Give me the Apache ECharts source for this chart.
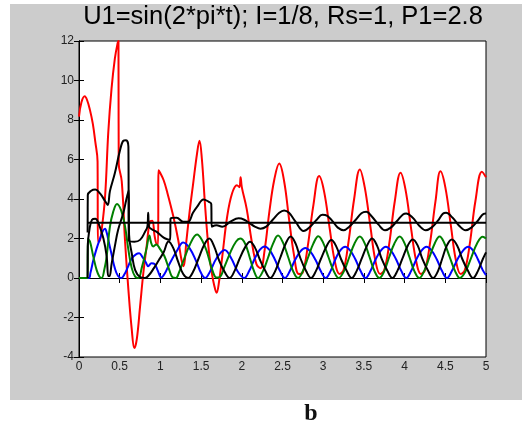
<!DOCTYPE html>
<html>
<head>
<meta charset="utf-8">
<script src="https://cdn.jsdelivr.net/npm/echarts@6/dist/echarts.min.js"></script>
<style>
html,body{margin:0;padding:0;background:#fff;}
#chart{width:526px;height:427px;}
</style>
</head>
<body>
<div id="chart"></div>
<script>
const titleText = 'U1=sin(2*pi*t); I=1/8, Rs=1, P1=2.8';
const panelLabel = 'b';
const xTicks = [0, 5, 0.5];
const yTicks = [-4, 12, 2];

const redCurve = [
[0,8.17],[0.03,8.9],[0.07,9.2],[0.1,9.0],[0.135,8.5],[0.17,7.8],[0.2,6.9],[0.228,5.9],[0.232,1.85],[0.25,1.85],[0.28,2.5],[0.32,4.1],[0.36,7.4],[0.4,9.6],[0.44,11.1],[0.475,11.9],[0.485,12],[0.488,5.8],[0.525,4.9],[0.566,1.84],[0.607,-0.6],[0.648,-2.6],[0.68,-3.55],[0.71,-3.1],[0.75,-1.45],[0.79,0.24],[0.83,1.58],[0.87,2.85],[0.9,2.9],[0.93,2.1],[0.96,1.7],[0.972,1.7],[0.976,5.45],[1.0,5.3],[1.04,4.95],[1.08,4.4],[1.16,3.1],[1.22,1.9],[1.26,0.9],[1.285,0.6],[1.32,1.9],[1.36,3.4],[1.4,4.7],[1.45,6.3],[1.48,6.95],[1.51,6.0],[1.55,3.6],[1.59,1.58],[1.63,0.3],[1.66,-0.35],[1.69,-0.75],[1.72,-0.2],[1.76,1.08],[1.82,3.1],[1.88,4.28],[1.94,4.7],[1.97,4.6],[1.985,5.1],[2.0,4.6],[2.06,3.5],[2.12,1.9],[2.18,0.7],[2.23,0.5],[2.28,1.4],[2.34,3.4],[2.4,5.0],[2.46,5.8],[2.52,4.9],[2.58,3.0],[2.64,1.2],[2.7,0.2],[2.75,0.3],[2.81,1.6],[2.88,3.7],[2.95,5.16],[3.01,4.4],[3.08,2.5],[3.14,0.9],[3.2,0.2],[3.25,0.4],[3.31,1.8],[3.38,4.0],[3.45,5.5],[3.51,4.6],[3.58,2.6],[3.64,0.9],[3.7,0.2],[3.75,0.4],[3.81,1.7],[3.88,3.9],[3.95,5.33],[4.01,4.5],[4.08,2.5],[4.14,0.9],[4.2,0.2],[4.25,0.4],[4.31,1.7],[4.38,3.9],[4.44,5.4],[4.5,4.6],[4.57,2.6],[4.63,0.9],[4.69,0.2],[4.74,0.4],[4.8,1.7],[4.87,3.9],[4.95,5.38],[5.0,5.1]
];

const blueCurve = [
[0,0],[0.12,0],[0.14,0.25],[0.175,0.88],[0.217,1.5],[0.258,2.0],[0.295,2.4],[0.32,2.5],[0.34,2.3],[0.37,1.75],[0.4,1.2],[0.44,0.5],[0.48,0.1],[0.52,0],[0.56,0.2],[0.6,0.55],[0.65,1.0],[0.7,1.2],[0.74,1.25],[0.78,1.05],[0.82,0.8],[0.85,0.6],[0.89,0.75],[0.93,0.7],[0.97,0.35],[1.01,0.02],[1.05,0.2],[1.11,0.7],[1.2,1.35],[1.28,1.8],[1.36,1.5],[1.44,0.84],[1.5,0.25],[1.55,0],[1.61,0.33],[1.69,1.0],[1.79,1.42],[1.87,1.0],[1.95,0.33],[2.03,0],
[2.09,0.35],[2.155,0.95],[2.22,1.42],[2.28,1.6],[2.34,1.42],[2.405,0.95],[2.47,0.35],[2.53,0],
[2.59,0.35],[2.655,0.92],[2.72,1.35],[2.78,1.52],[2.84,1.35],[2.905,0.92],[2.97,0.35],[3.03,0],
[3.09,0.35],[3.15,0.95],[3.21,1.4],[3.27,1.58],[3.33,1.4],[3.395,0.95],[3.46,0.35],[3.52,0],
[3.58,0.35],[3.645,0.95],[3.71,1.4],[3.77,1.58],[3.83,1.4],[3.895,0.95],[3.96,0.35],[4.02,0],
[4.08,0.35],[4.145,0.95],[4.21,1.4],[4.27,1.58],[4.33,1.4],[4.395,0.95],[4.46,0.35],[4.52,0],
[4.58,0.35],[4.65,0.95],[4.72,1.4],[4.78,1.58],[4.84,1.4],[4.9,0.95],[4.96,0.4],[5,0.15]
];

const greenCurve = [
[0,0],[0.106,0],[0.108,2.0],[0.135,1.84],[0.175,1.1],[0.217,0.4],[0.25,0.08],[0.278,0],[0.31,0.4],[0.34,1.1],[0.38,2.6],[0.42,3.35],[0.467,3.75],[0.52,3.4],[0.566,2.6],[0.607,1.42],[0.648,0.5],[0.69,0.07],[0.73,0],[0.77,0.5],[0.83,1.5],[0.865,2.15],[0.885,1.8],[0.91,1.6],[0.95,1.7],[0.99,1.5],[1.05,1.1],[1.11,0.4],[1.15,0.03],[1.19,0],[1.23,0.3],[1.28,0.84],[1.36,1.67],[1.45,2.2],[1.51,1.93],[1.57,1.35],[1.63,0.5],[1.69,0.02],[1.73,0.05],[1.79,0.6],[1.86,1.3],[1.93,1.85],[1.98,2.0],[2.04,1.75],[2.1,1.0],[2.15,0.35],[2.2,0],
[2.26,0.35],[2.32,1.0],[2.385,1.75],[2.445,2.15],[2.505,1.8],[2.57,1.05],[2.63,0.35],[2.69,0],
[2.75,0.35],[2.815,1.05],[2.88,1.75],[2.94,2.12],[3.0,1.78],[3.065,1.05],[3.13,0.35],[3.19,0],
[3.255,0.35],[3.32,1.05],[3.385,1.75],[3.45,2.1],[3.51,1.75],[3.57,1.05],[3.63,0.35],[3.69,0],
[3.75,0.35],[3.81,1.05],[3.875,1.75],[3.94,2.1],[4.0,1.75],[4.06,1.05],[4.12,0.35],[4.18,0],
[4.24,0.35],[4.305,1.05],[4.37,1.75],[4.43,2.1],[4.49,1.75],[4.555,1.05],[4.62,0.35],[4.68,0],
[4.75,0.35],[4.82,1.05],[4.89,1.75],[4.96,2.09],[5,2.0]
];

const blackLower = [
[0.106,0],[0.108,1.6],[0.13,2.5],[0.16,2.95],[0.2,3.0],[0.24,2.77],[0.3,2.0],[0.34,1.1],[0.36,0.1],[0.375,0.1],[0.4,0.7],[0.44,1.6],[0.48,2.43],[0.545,3.3],[0.58,3.95],[0.61,4.45],[0.615,2.2],[0.65,1.2],[0.69,0.4],[0.75,0.05],[0.81,0],[0.86,0.15],[0.92,0.5],[0.98,0.9],[1.04,1.3],[1.1,1.85],[1.16,1.5],[1.22,0.8],[1.28,0.2],[1.34,0],[1.4,0.3],[1.47,1.0],[1.54,1.7],[1.6,2.0],[1.66,1.6],[1.72,0.9],[1.79,0.3],[1.85,0],
[1.91,0.35],[1.97,0.95],[2.04,1.55],[2.1,1.84],[2.16,1.55],[2.22,0.95],[2.29,0.35],[2.35,0],
[2.41,0.35],[2.47,1.0],[2.54,1.75],[2.6,2.1],[2.66,1.75],[2.72,1.0],[2.79,0.35],[2.85,0],
[2.91,0.35],[2.97,0.95],[3.04,1.6],[3.1,1.92],[3.16,1.6],[3.22,0.95],[3.29,0.35],[3.35,0],
[3.41,0.35],[3.47,0.95],[3.54,1.65],[3.6,2.0],[3.66,1.65],[3.72,0.95],[3.79,0.35],[3.85,0],
[3.91,0.35],[3.97,0.95],[4.04,1.65],[4.1,1.95],[4.16,1.65],[4.22,0.95],[4.29,0.35],[4.35,0],
[4.41,0.35],[4.46,0.95],[4.52,1.65],[4.58,1.95],[4.645,1.65],[4.71,0.95],[4.78,0.35],[4.84,0],
[4.9,0.35],[4.96,0.95],[5,1.3]
];

const blackUpper = [
[0.106,2.3],[0.108,4.2],[0.15,4.42],[0.2,4.48],[0.258,4.28],[0.32,3.9],[0.353,3.7],[0.38,4.4],[0.44,5.3],[0.5,6.4],[0.545,6.95],[0.578,6.98],[0.607,6.65],[0.612,1.9],[0.68,1.84],[0.75,1.93],[0.81,2.33],[0.84,2.6],[0.85,3.3],[0.86,2.6],[0.9,2.45],[0.95,2.35],[1.0,2.18],[1.06,2.0],[1.12,1.93],[1.125,3.02],[1.2,3.05],[1.28,2.85],[1.34,2.85],[1.4,3.3],[1.45,3.6],[1.53,3.98],[1.59,3.87],[1.625,3.75],[1.63,2.6],[1.69,2.67],[1.76,2.6],[1.86,2.85],[1.96,3.02],
[2.03,2.95],[2.1,2.76],[2.16,2.6],[2.23,2.5],[2.3,2.6],[2.38,2.95],[2.46,3.3],[2.52,3.42],[2.58,3.3],[2.66,2.85],[2.76,2.38],[2.84,2.6],[2.92,2.95],[2.99,3.2],[3.05,3.15],[3.12,2.85],[3.18,2.55],[3.25,2.42],[3.32,2.6],[3.4,2.95],[3.47,3.28],[3.53,3.35],[3.6,3.1],[3.68,2.7],[3.76,2.42],[3.83,2.55],[3.91,2.9],[3.98,3.22],[4.02,3.27],[4.1,3.05],[4.18,2.65],[4.26,2.42],[4.33,2.55],[4.41,2.9],[4.47,3.25],[4.51,3.3],[4.59,3.05],[4.67,2.65],[4.75,2.42],[4.82,2.55],[4.9,2.9],[4.97,3.25],[5,3.27]
];

const p1Level = [[0.107,2.8],[5,2.8]];

const chart = echarts.init(document.getElementById('chart'), null, {renderer:'canvas'});
const FONT = 'Liberation Sans, Arial, sans-serif';
const lineSeries = (data, color, z) => ({
  type:'line', data, showSymbol:false, symbol:'none', smooth:0.4,
  lineStyle:{color, width:2}, z, animation:false, clip:true
});
const axisCommon = {
  axisLine:{show:true, lineStyle:{color:'#000', width:1}},
  axisTick:{show:true, inside:true, length:5, lineStyle:{color:'#000'}},
  splitLine:{show:false}
};
chart.setOption({
  animation:false,
  backgroundColor:'#ffffff',
  graphic:[
    {type:'rect', shape:{x:10, y:4, width:512, height:396}, style:{fill:'#cccccc'}, z:-10, silent:true},
    {type:'text', x:283, y:30, style:{text:titleText, font:'25.5px '+FONT, fill:'#000', textAlign:'center', textVerticalAlign:'bottom'}, z:10},
    {type:'text', x:311, y:426, style:{text:panelLabel, font:'bold 24px "Liberation Serif", "Times New Roman", serif', fill:'#111', textAlign:'center', textVerticalAlign:'bottom'}, z:10}
  ],
  grid:{left:79, right:40, top:41, bottom:70, show:true, backgroundColor:'#ffffff', borderColor:'#000', borderWidth:1},
  xAxis:[
    Object.assign({type:'value', min:xTicks[0], max:xTicks[1], interval:xTicks[2], position:'bottom',
      axisLabel:{color:'#222', fontSize:12, fontFamily:FONT, margin:4}}, axisCommon),
    Object.assign({type:'value', min:xTicks[0], max:xTicks[1], interval:xTicks[2], position:'top',
      axisLabel:{show:false}}, axisCommon)
  ],
  yAxis:[
    Object.assign({type:'value', min:yTicks[0], max:yTicks[1], interval:yTicks[2], position:'left',
      axisLabel:{color:'#222', fontSize:12, fontFamily:FONT, margin:5}}, axisCommon),
    Object.assign({type:'value', min:yTicks[0], max:yTicks[1], interval:yTicks[2], position:'right',
      axisLabel:{show:false}}, axisCommon)
  ],
  series:[
    lineSeries(redCurve, '#ff0000', 2),
    lineSeries(blackUpper, '#000000', 5),
    lineSeries(p1Level, '#000000', 6),
    lineSeries(greenCurve, '#008000', 4),
    lineSeries(blueCurve, '#0000ff', 3),
    lineSeries(blackLower, '#000000', 5)
  ]
});
</script>
</body>
</html>
